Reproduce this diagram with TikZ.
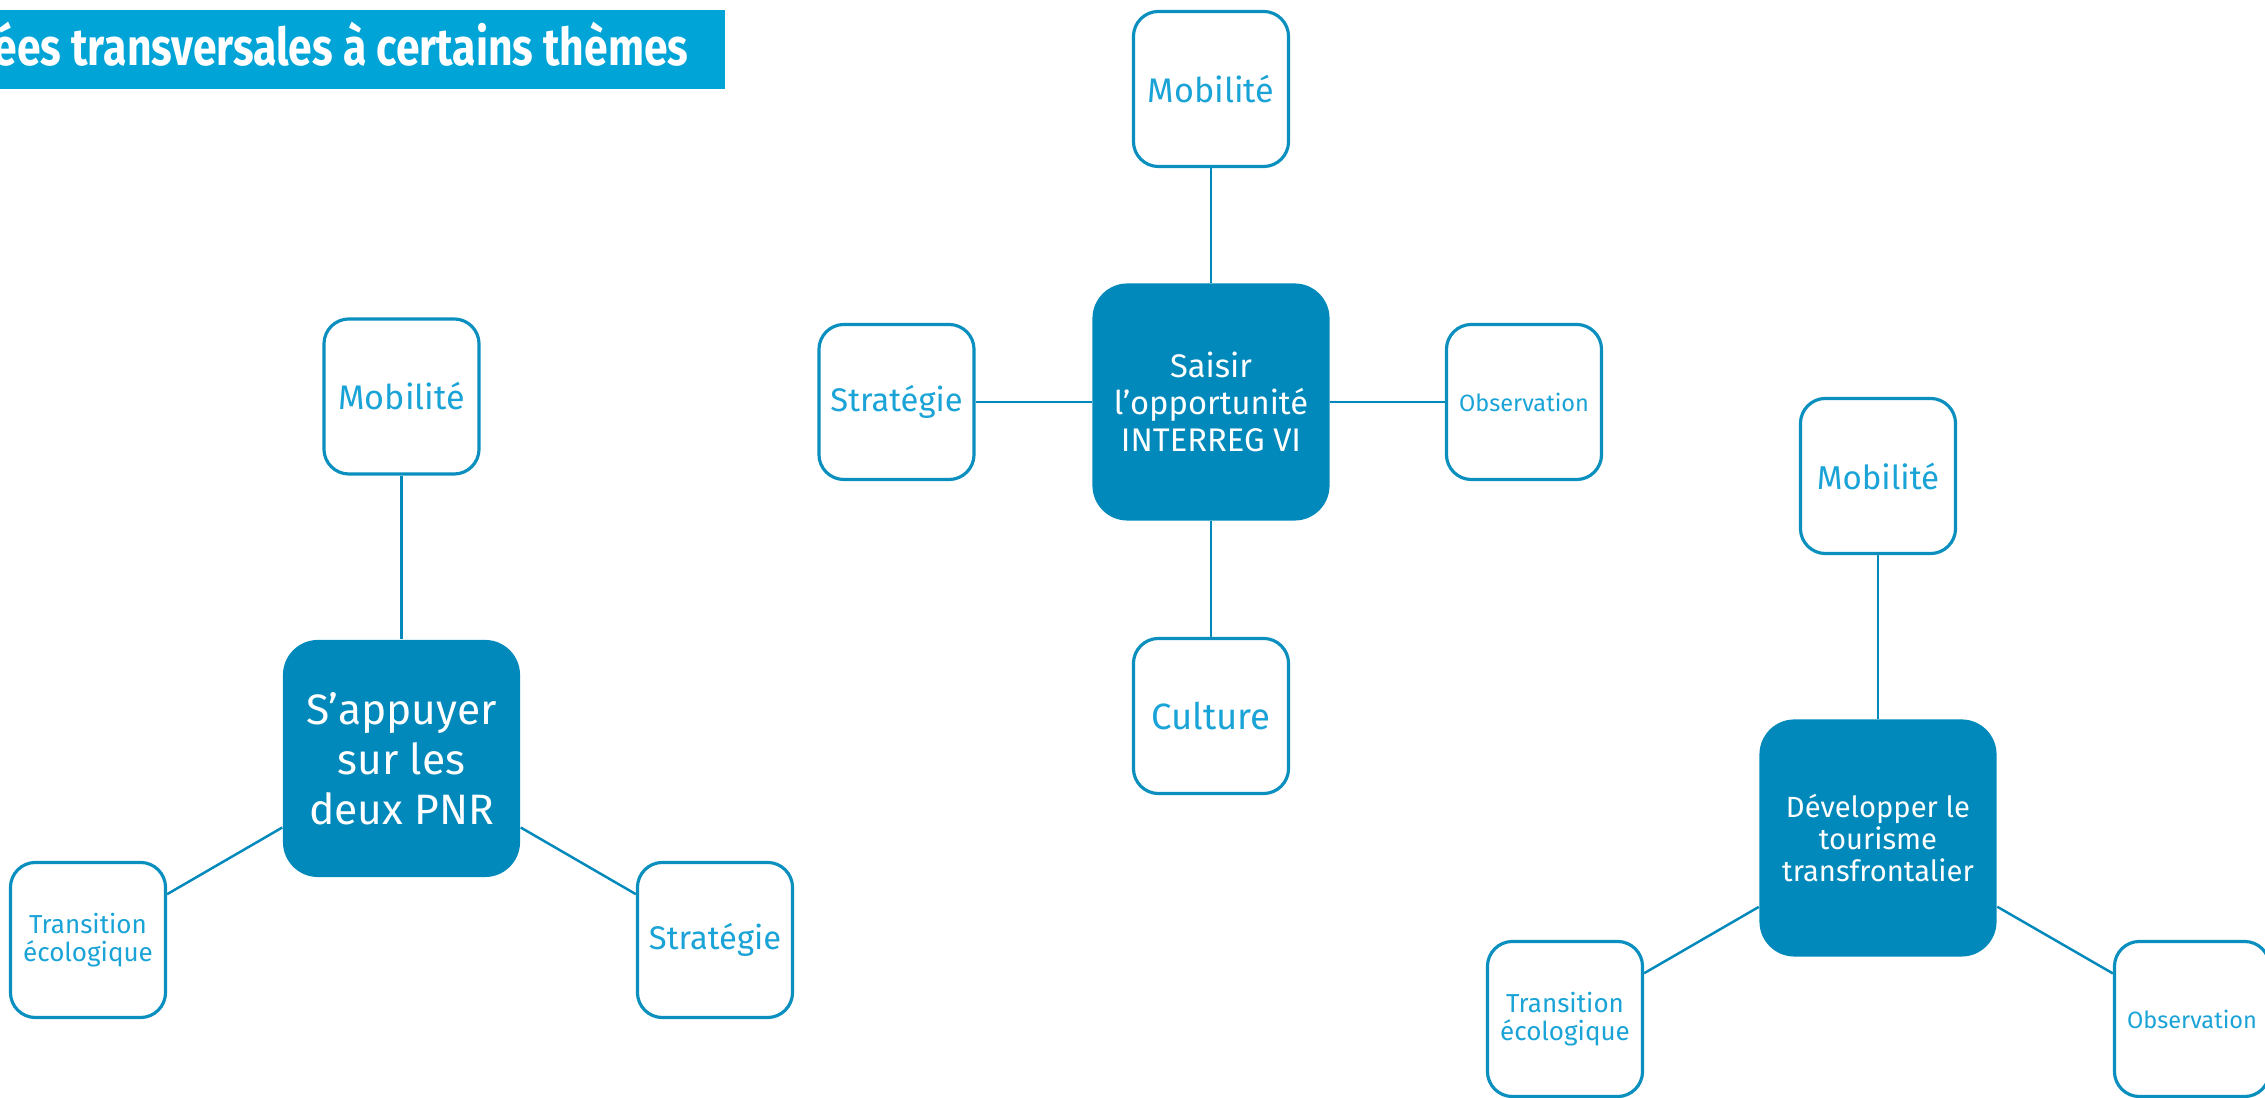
\documentclass[tikz,border=0pt]{standalone}
\usepackage{fontspec}
\setmainfont{Fira Sans}
\newfontfamily\titlefont[FakeStretch=0.82]{Fira Sans}
\definecolor{hubblue}{HTML}{0089BA}
\definecolor{themeblue}{HTML}{0A8FBE}
\definecolor{themetext}{HTML}{1AA3D6}
\definecolor{barblue}{HTML}{00A4D6}
\tikzset{
  hub/.style={rectangle, rounded corners=0.35cm, fill=hubblue, text=white,
    minimum size=2.37cm, align=center, inner sep=0pt},
  theme/.style={rectangle, rounded corners=0.25cm, draw=themeblue, line width=0.9pt,
    fill=white, text=themetext, minimum size=1.55cm, align=center, inner sep=0pt},
  link/.style={draw=hubblue, line width=0.7pt},
}
\begin{document}
\begin{tikzpicture}[x=0.01cm,y=-0.01cm]
\useasboundingbox (0,0) rectangle (2265,1098);
\fill[barblue] (0,10) rectangle (725,89);
\node[anchor=base west, inner sep=0pt, text=white,
  font=\titlefont\bfseries\fontsize{14.8}{16}\selectfont] (title) at (-7,66)
  {ées transversales à certains thèmes};

\node[hub, font=\fontsize{12.1}{14.2}\selectfont] (pnr) at (401.5,758.5) {S’appuyer\\sur les\\deux PNR};
\node[theme, font=\fontsize{9.7}{11}\selectfont] (mobilitepnr) at (401.5,396.5) {Mobilité};
\node[theme, font=\fontsize{7.4}{8}\selectfont] (transitionpnr) at (88,940) {Transition\\écologique};
\node[theme, font=\fontsize{9.3}{11}\selectfont] (strategiepnr) at (715,940) {Stratégie};

\node[hub, font=\fontsize{9.3}{10.5}\selectfont] (interreg) at (1211,402) {Saisir\\l’opportunité\\INTERREG VI};
\node[theme, font=\fontsize{9.7}{11}\selectfont] (mobiliteinterreg) at (1211,89) {Mobilité};
\node[theme, font=\fontsize{9.3}{11}\selectfont] (strategieinterreg) at (896.5,402) {Stratégie};
\node[theme, font=\fontsize{6.7}{8}\selectfont] (observationinterreg) at (1524,402) {Observation};
\node[theme, font=\fontsize{10.4}{12}\selectfont] (culture) at (1211,716) {Culture};

\node[hub, font=\fontsize{8.3}{9.1}\selectfont] (tourisme) at (1878,838) {Développer le\\tourisme\\transfrontalier};
\node[theme, font=\fontsize{9.4}{11}\selectfont] (mobilitetourisme) at (1878,476) {Mobilité};
\node[theme, font=\fontsize{7.4}{8}\selectfont] (transitiontourisme) at (1565,1019) {Transition\\écologique};
\node[theme, font=\fontsize{6.7}{8}\selectfont] (observationtourisme) at (2192,1019) {Observation};

\draw[link] (pnr) -- (mobilitepnr);
\draw[link] (pnr) -- (transitionpnr);
\draw[link] (pnr) -- (strategiepnr);
\draw[link] (interreg) -- (mobiliteinterreg);
\draw[link] (interreg) -- (strategieinterreg);
\draw[link] (interreg) -- (observationinterreg);
\draw[link] (interreg) -- (culture);
\draw[link] (tourisme) -- (mobilitetourisme);
\draw[link] (tourisme) -- (transitiontourisme);
\draw[link] (tourisme) -- (observationtourisme);
\end{tikzpicture}
\end{document}
